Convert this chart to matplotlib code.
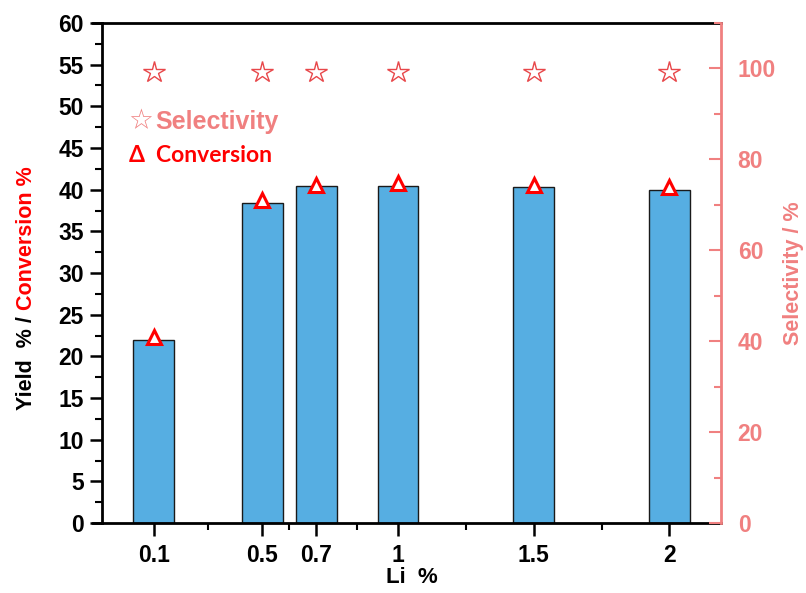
import numpy as np
import matplotlib
matplotlib.use("Agg")
import matplotlib.pyplot as plt
from matplotlib.ticker import MultipleLocator, FixedLocator
from matplotlib.lines import Line2D

plt.rcParams["font.family"] = ["Liberation Sans", "DejaVu Sans"]
plt.rcParams["font.weight"] = "bold"

# --- data ---
li_pct = [0.1, 0.5, 0.7, 1.0, 1.5, 2.0]
li_labels = ["0.1", "0.5", "0.7", "1", "1.5", "2"]
yield_pct = [22.0, 38.4, 40.4, 40.5, 40.3, 40.0]
conversion_pct = [22.3, 38.7, 40.6, 40.8, 40.6, 40.3]
selectivity_pct = [99.3, 99.3, 99.3, 99.3, 99.3, 99.3]

BAR_COLOR = "#56AEE2"
SEL_COLOR = "#F08080"
STAR_EDGE = "#E8474A"
CONV_COLOR = "#FF0000"
TICK_FS = 16.5

fig = plt.figure(figsize=(8.06, 5.93), dpi=100)
ax = fig.add_axes([102 / 806, 70 / 593, 619 / 806, 500 / 593])

ax.bar(li_pct, yield_pct, width=0.15, color=BAR_COLOR,
       edgecolor="#1a1a1a", linewidth=1.0, zorder=2)
ax.plot(li_pct, conversion_pct, ls="none", marker="^", markersize=10,
        markerfacecolor="white", markeredgecolor=CONV_COLOR,
        markeredgewidth=2.2, zorder=4, clip_on=False)

ax.set_xlim(-0.09, 2.19)
ax.set_ylim(0, 60)
ax.yaxis.set_major_locator(MultipleLocator(5))
ax.yaxis.set_minor_locator(MultipleLocator(2.5))
ax.xaxis.set_major_locator(FixedLocator(li_pct))
ax.set_xticklabels(li_labels)
ax.xaxis.set_minor_locator(FixedLocator([0.3, 0.6, 0.85, 1.25, 1.75]))

ax.tick_params(axis="both", which="major", direction="out", length=9,
               width=1.8, labelsize=TICK_FS, pad=4)
ax.tick_params(axis="both", which="minor", direction="out", length=5,
               width=1.5)
ax.tick_params(axis="x", which="major", pad=6)
for lbl in ax.get_xticklabels() + ax.get_yticklabels():
    lbl.set_fontweight("bold")

for side in ["left", "bottom", "top"]:
    ax.spines[side].set_linewidth(2.0)
ax.spines["right"].set_visible(False)

# top and bottom lines run a little past the left axis, as in the reference
for yy in (0, 1):
    ax.add_line(Line2D([-0.015, 0], [yy, yy], transform=ax.transAxes,
                       color="black", lw=2.0, clip_on=False))

ax.set_xlabel("Li  %", fontsize=16, fontweight="bold", labelpad=0)

# right axis: selectivity
ax2 = ax.twinx()
ax2.plot(li_pct, selectivity_pct, ls="none", marker="*", markersize=16,
         markerfacecolor="white", markeredgecolor=STAR_EDGE,
         markeredgewidth=1.0, zorder=5)
ax2.set_ylim(0, 110)
ax2.yaxis.set_major_locator(MultipleLocator(20))
ax2.yaxis.set_minor_locator(MultipleLocator(10))
ax2.tick_params(axis="y", which="major", direction="in", length=9, width=1.5,
                colors=SEL_COLOR, labelsize=TICK_FS, pad=12)
ax2.tick_params(axis="y", which="minor", direction="in", length=5, width=1.5,
                colors=SEL_COLOR)
for lbl in ax2.get_yticklabels():
    lbl.set_fontweight("bold")
for side in ["left", "bottom", "top"]:
    ax2.spines[side].set_visible(False)
ax2.spines["right"].set_color(SEL_COLOR)
ax2.spines["right"].set_linewidth(2.0)
ax2.set_ylabel("Selectivity / %", fontsize=15.5, fontweight="bold",
               color=SEL_COLOR, labelpad=5)

# two-colour y label: black part first, red part stacked right above it
fig.canvas.draw()
renderer = fig.canvas.get_renderer()
lab_x = 27 / 806
t1 = fig.text(lab_x, 1 - 410 / 593, "Yield  % / ", rotation=90,
              ha="center", va="bottom", fontsize=15.5, fontweight="bold",
              color="black")
bb = t1.get_window_extent(renderer=renderer)
fig.text(lab_x, bb.y1 / fig.bbox.height, "Conversion %", rotation=90,
         ha="center", va="bottom", fontsize=15.5, fontweight="bold",
         color=CONV_COLOR)

# legend drawn as text, like the reference
ax.text(0.042, 0.803, "☆", fontsize=20, color=SEL_COLOR, ha="left",
        va="center", transform=ax.transAxes, family=["DejaVu Sans"])
ax.text(0.086, 0.803, "Selectivity", fontsize=18, fontweight="bold",
        color=SEL_COLOR, ha="left", va="center", transform=ax.transAxes)
ax.text(0.043, 0.735, "Δ  Conversion", fontsize=16.5, fontweight="bold",
        color=CONV_COLOR, ha="left", va="center", transform=ax.transAxes,
        family=["Lato", "DejaVu Sans"])

fig.savefig("out.png", dpi=100)
